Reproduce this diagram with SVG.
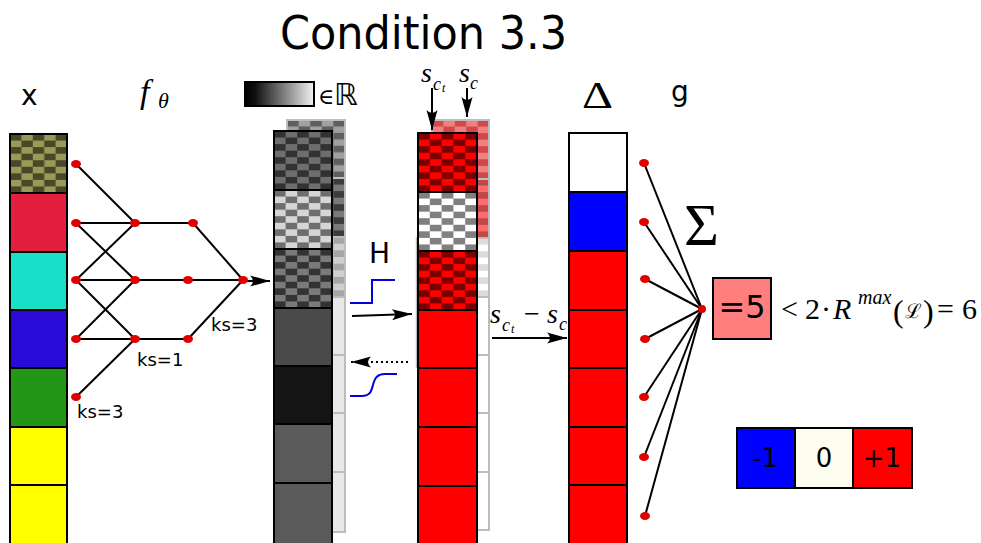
<svg xmlns="http://www.w3.org/2000/svg" width="981" height="543" viewBox="0 0 981 543">
<style>
.cell{stroke:#000;stroke-width:2}
.bcell{stroke:#bdbdbd;stroke-width:2}
.edge{stroke:#000;stroke-width:2;fill:none}
.dot{fill:#e00000}
.sans{font-family:'DejaVu Sans','Liberation Sans',sans-serif;fill:#000}
.ser{font-family:'Liberation Serif','DejaVu Serif',serif;fill:#000}
.dser{font-family:'DejaVu Serif',serif}
.it{font-style:italic}
.up{font-style:normal}
</style>
<defs>
<marker id="ah" markerUnits="userSpaceOnUse" markerWidth="24" markerHeight="14" viewBox="-21 -7 22 14" refX="0" refY="0" orient="auto">
<path d="M0,0 L-20,-5.5 Q-14,0 -20,5.5 Z" fill="#000"/>
</marker>
<linearGradient id="gbar" x1="0" y1="0" x2="1" y2="0">
<stop offset="0" stop-color="#000"/><stop offset="0.15" stop-color="#111"/><stop offset="1" stop-color="#f2f2f2"/>
</linearGradient>
<pattern id="pOlive" patternUnits="objectBoundingBox" patternContentUnits="objectBoundingBox" width="0.4" height="0.2222">
<rect width="0.4" height="0.2222" fill="#9a9a58"/><rect width="0.2" height="0.1111" fill="#484828"/><rect x="0.2" y="0.1111" width="0.2" height="0.1111" fill="#484828"/>
</pattern>
<pattern id="pG1" patternUnits="objectBoundingBox" patternContentUnits="objectBoundingBox" width="0.4" height="0.2222">
<rect width="0.4" height="0.2222" fill="#6e6e6e"/><rect width="0.2" height="0.1111" fill="#323232"/><rect x="0.2" y="0.1111" width="0.2" height="0.1111" fill="#323232"/>
</pattern>
<pattern id="pG2" patternUnits="objectBoundingBox" patternContentUnits="objectBoundingBox" width="0.4" height="0.2222">
<rect width="0.4" height="0.2222" fill="#d6d6d6"/><rect width="0.2" height="0.1111" fill="#6e6e6e"/><rect x="0.2" y="0.1111" width="0.2" height="0.1111" fill="#6e6e6e"/>
</pattern>
<pattern id="pG3" patternUnits="objectBoundingBox" patternContentUnits="objectBoundingBox" width="0.4" height="0.2222">
<rect width="0.4" height="0.2222" fill="#7a7a7a"/><rect width="0.2" height="0.1111" fill="#333"/><rect x="0.2" y="0.1111" width="0.2" height="0.1111" fill="#333"/>
</pattern>
<pattern id="pBG1" patternUnits="objectBoundingBox" patternContentUnits="objectBoundingBox" width="0.4" height="0.2222">
<rect width="0.4" height="0.2222" fill="#a0a0a0"/><rect width="0.2" height="0.1111" fill="#5e5e5e"/><rect x="0.2" y="0.1111" width="0.2" height="0.1111" fill="#5e5e5e"/>
</pattern>
<pattern id="pBG2" patternUnits="objectBoundingBox" patternContentUnits="objectBoundingBox" width="0.4" height="0.2222">
<rect width="0.4" height="0.2222" fill="#7a7a7a"/><rect width="0.2" height="0.1111" fill="#3c3c3c"/><rect x="0.2" y="0.1111" width="0.2" height="0.1111" fill="#3c3c3c"/>
</pattern>
<pattern id="pBG3" patternUnits="objectBoundingBox" patternContentUnits="objectBoundingBox" width="0.4" height="0.2222">
<rect width="0.4" height="0.2222" fill="#cfcfcf"/><rect width="0.2" height="0.1111" fill="#a6a6a6"/><rect x="0.2" y="0.1111" width="0.2" height="0.1111" fill="#a6a6a6"/>
</pattern>
<pattern id="pR1" patternUnits="objectBoundingBox" patternContentUnits="objectBoundingBox" width="0.4" height="0.2222">
<rect width="0.4" height="0.2222" fill="#ff0000"/><rect width="0.2" height="0.1111" fill="#7a0000"/><rect x="0.2" y="0.1111" width="0.2" height="0.1111" fill="#7a0000"/>
</pattern>
<pattern id="pRW" patternUnits="objectBoundingBox" patternContentUnits="objectBoundingBox" width="0.4" height="0.2222">
<rect width="0.4" height="0.2222" fill="#ffffff"/><rect width="0.2" height="0.1111" fill="#808080"/><rect x="0.2" y="0.1111" width="0.2" height="0.1111" fill="#808080"/>
</pattern>
<pattern id="pBR1" patternUnits="objectBoundingBox" patternContentUnits="objectBoundingBox" width="0.4" height="0.2222">
<rect width="0.4" height="0.2222" fill="#f08080"/><rect width="0.2" height="0.1111" fill="#d04848"/><rect x="0.2" y="0.1111" width="0.2" height="0.1111" fill="#d04848"/>
</pattern>
<pattern id="pBR2" patternUnits="objectBoundingBox" patternContentUnits="objectBoundingBox" width="0.4" height="0.2222">
<rect width="0.4" height="0.2222" fill="#ff6a6a"/><rect width="0.2" height="0.1111" fill="#c04848"/><rect x="0.2" y="0.1111" width="0.2" height="0.1111" fill="#c04848"/>
</pattern>
<pattern id="pBR3" patternUnits="objectBoundingBox" patternContentUnits="objectBoundingBox" width="0.4" height="0.2222">
<rect width="0.4" height="0.2222" fill="#ffffff"/><rect width="0.2" height="0.1111" fill="#dcdcdc"/><rect x="0.2" y="0.1111" width="0.2" height="0.1111" fill="#dcdcdc"/>
</pattern>
</defs>
<rect width="981" height="543" fill="#fff"/>

<g id="title"><text class="sans" x="280" y="49" font-size="47" textLength="287" lengthAdjust="spacingAndGlyphs">Condition 3.3</text></g>

<g id="labels">
<text class="sans" x="21" y="105" font-size="28">x</text>
<text class="ser it" x="140" y="103" font-size="34">f<tspan x="158" y="108" font-size="22">θ</tspan></text>
<text class="ser" x="318" y="104" font-size="22"><tspan class="dser">∈</tspan><tspan class="sans" x="334" y="105" font-size="30">ℝ</tspan></text>
<text class="ser" x="582" y="108" font-size="38" textLength="31" lengthAdjust="spacingAndGlyphs">Δ</text>
<text class="sans" x="671" y="101" font-size="28">g</text>
<text class="sans" x="369" y="263" font-size="28">H</text>
<text class="sans" x="77" y="418" font-size="18">ks=3</text>
<text class="sans" x="137" y="366" font-size="18">ks=1</text>
<text class="sans" x="211" y="331" font-size="18">ks=3</text>
<text class="ser it" x="421" y="82" font-size="28">s<tspan x="433" y="90" font-size="18">c</tspan><tspan x="442" y="92" font-size="12">t</tspan></text>
<text class="ser it" x="459" y="82" font-size="28">s<tspan x="470" y="89" font-size="18">c</tspan></text>
<text class="ser it" x="490" y="323" font-size="28">s<tspan x="502" y="331" font-size="18">c</tspan><tspan x="511" y="333" font-size="12">t</tspan><tspan class="up" x="524" y="323" font-size="28">−</tspan><tspan x="547" y="323" font-size="28">s</tspan><tspan x="559" y="330" font-size="18">c</tspan></text>
<text class="ser" x="684" y="245" font-size="60">Σ</text>
<text class="ser" x="781" y="319" font-size="30">&lt;<tspan x="805">2</tspan><tspan x="821">·</tspan><tspan class="it" x="833" font-size="30">R</tspan><tspan class="it" x="858" y="304" font-size="20">max</tspan><tspan x="893" y="322" font-size="32">(</tspan><tspan class="dser" x="905" y="318" font-size="20">ℒ</tspan><tspan x="923" y="322" font-size="32">)</tspan><tspan x="937" y="319">=</tspan><tspan x="962" y="319">6</tspan></text>
</g>

<g id="gradient-bar"><rect x="245" y="82" width="69" height="24" fill="url(#gbar)" stroke="#000" stroke-width="2"/></g>

<g id="col-x">
<rect class="cell" x="10" y="134" width="57" height="59" fill="url(#pOlive)"/>
<rect class="cell" x="10" y="193" width="57" height="59" fill="#e31e3e"/>
<rect class="cell" x="10" y="252" width="57" height="58" fill="#18e0c8"/>
<rect class="cell" x="10" y="310" width="57" height="58" fill="#2a0ad6"/>
<rect class="cell" x="10" y="368" width="57" height="59" fill="#239517"/>
<rect class="cell" x="10" y="427" width="57" height="58" fill="#ffff00"/>
<rect class="cell" x="10" y="485" width="57" height="60" fill="#ffff00"/>
</g>

<g id="col-gray-back">
<rect class="bcell" x="287" y="120" width="58" height="58" fill="url(#pBG1)"/>
<rect class="bcell" x="287" y="178" width="58" height="59" fill="url(#pBG2)"/>
<rect class="bcell" x="287" y="237" width="58" height="60" fill="url(#pBG3)"/>
<rect class="bcell" x="287" y="297" width="58" height="58" fill="#e8e8e8"/>
<rect class="bcell" x="287" y="355" width="58" height="58" fill="#e8e8e8"/>
<rect class="bcell" x="287" y="413" width="58" height="59" fill="#e8e8e8"/>
<rect class="bcell" x="287" y="472" width="58" height="60" fill="#e8e8e8"/>
</g>
<g id="col-gray">
<rect class="cell" x="274" y="131" width="58" height="59" fill="url(#pG1)"/>
<rect class="cell" x="274" y="190" width="58" height="59" fill="url(#pG2)"/>
<rect class="cell" x="274" y="249" width="58" height="59" fill="url(#pG3)"/>
<rect class="cell" x="274" y="308" width="58" height="58" fill="#4a4a4a"/>
<rect class="cell" x="274" y="366" width="58" height="58" fill="#141414"/>
<rect class="cell" x="274" y="424" width="58" height="59" fill="#5a5a5a"/>
<rect class="cell" x="274" y="483" width="58" height="62" fill="#5a5a5a"/>
</g>

<g id="col-red-back">
<rect class="bcell" x="432" y="120" width="57" height="59" fill="url(#pBR1)"/>
<rect class="bcell" x="432" y="179" width="57" height="59" fill="url(#pBR2)"/>
<rect class="bcell" x="432" y="238" width="57" height="59" fill="url(#pBR3)"/>
<rect class="bcell" x="432" y="297" width="57" height="58" fill="#fff"/>
<rect class="bcell" x="432" y="355" width="57" height="58" fill="#fff"/>
<rect class="bcell" x="432" y="413" width="57" height="59" fill="#fff"/>
<rect class="bcell" x="432" y="472" width="57" height="58" fill="#fff"/>
</g>
<line x1="416.5" y1="237" x2="416.5" y2="368" stroke="#bdbdbd" stroke-width="1.5"/>
<g id="col-red">
<rect class="cell" x="418" y="133" width="59" height="59" fill="url(#pR1)"/>
<rect class="cell" x="418" y="192" width="59" height="59" fill="url(#pRW)"/>
<rect class="cell" x="418" y="251" width="59" height="59" fill="url(#pR1)"/>
<rect class="cell" x="418" y="310" width="59" height="58" fill="#ff0000"/>
<rect class="cell" x="418" y="368" width="59" height="59" fill="#ff0000"/>
<rect class="cell" x="418" y="427" width="59" height="59" fill="#ff0000"/>
<rect class="cell" x="418" y="486" width="59" height="59" fill="#ff0000"/>
</g>

<g id="col-delta">
<rect class="cell" x="569" y="133" width="58" height="59" fill="#fff"/>
<rect class="cell" x="569" y="192" width="58" height="59" fill="#0000ff"/>
<rect class="cell" x="569" y="251" width="58" height="59" fill="#ff0000"/>
<rect class="cell" x="569" y="310" width="58" height="58" fill="#ff0000"/>
<rect class="cell" x="569" y="368" width="58" height="59" fill="#ff0000"/>
<rect class="cell" x="569" y="427" width="58" height="58" fill="#ff0000"/>
<rect class="cell" x="569" y="485" width="58" height="60" fill="#ff0000"/>
</g>

<g id="sigmoids">
<path d="M350,303 H372 V280 H395" fill="none" stroke="#0000e0" stroke-width="2"/>
<path d="M350,396 H362 C370,396 371,392 373,385 C375,377 378,374 385,374 H397" fill="none" stroke="#0000e0" stroke-width="2"/>
</g>

<g id="connectors">
<line class="edge" x1="76" y1="164" x2="135" y2="223"/>
<line class="edge" x1="76" y1="223" x2="135" y2="223"/>
<line class="edge" x1="76" y1="280" x2="135" y2="223"/>
<line class="edge" x1="76" y1="223" x2="135" y2="280"/>
<line class="edge" x1="76" y1="280" x2="135" y2="280"/>
<line class="edge" x1="76" y1="339" x2="135" y2="280"/>
<line class="edge" x1="76" y1="280" x2="135" y2="339"/>
<line class="edge" x1="76" y1="339" x2="135" y2="339"/>
<line class="edge" x1="76" y1="397" x2="135" y2="339"/>
<line class="edge" x1="135" y1="223" x2="193" y2="223"/>
<line class="edge" x1="135" y1="280" x2="188" y2="280"/>
<line class="edge" x1="135" y1="339" x2="188" y2="339"/>
<line class="edge" x1="193" y1="223" x2="243" y2="280"/>
<line class="edge" x1="188" y1="280" x2="243" y2="280"/>
<line class="edge" x1="188" y1="339" x2="243" y2="280"/>
<line class="edge" x1="644" y1="163" x2="702" y2="309"/>
<line class="edge" x1="644" y1="222" x2="702" y2="309"/>
<line class="edge" x1="645" y1="279" x2="702" y2="309"/>
<line class="edge" x1="645" y1="339" x2="702" y2="309"/>
<line class="edge" x1="644" y1="397" x2="702" y2="309"/>
<line class="edge" x1="644" y1="457" x2="702" y2="309"/>
<line class="edge" x1="645" y1="516" x2="702" y2="309"/>
<line class="edge" x1="243" y1="281" x2="270" y2="281" marker-end="url(#ah)"/>
<line class="edge" x1="352" y1="316" x2="412" y2="314" marker-end="url(#ah)"/>
<line class="edge" x1="408" y1="362" x2="351" y2="362" stroke-dasharray="2,3" marker-end="url(#ah)"/>
<line class="edge" x1="432" y1="88" x2="432" y2="130" marker-end="url(#ah)"/>
<line class="edge" x1="467" y1="88" x2="467" y2="117" marker-end="url(#ah)"/>
<line class="edge" x1="492" y1="338" x2="567" y2="338" marker-end="url(#ah)"/>
</g>

<g id="net-nodes">
<ellipse class="dot" cx="76" cy="164" rx="5" ry="4"/>
<ellipse class="dot" cx="76" cy="223" rx="5" ry="4"/>
<ellipse class="dot" cx="76" cy="280" rx="5" ry="4"/>
<ellipse class="dot" cx="76" cy="339" rx="5" ry="4"/>
<ellipse class="dot" cx="76" cy="397" rx="5" ry="4"/>
<ellipse class="dot" cx="135" cy="223" rx="5" ry="4"/>
<ellipse class="dot" cx="135" cy="280" rx="5" ry="4"/>
<ellipse class="dot" cx="135" cy="339" rx="5" ry="4"/>
<ellipse class="dot" cx="193" cy="223" rx="5" ry="4"/>
<ellipse class="dot" cx="188" cy="280" rx="5" ry="4"/>
<ellipse class="dot" cx="188" cy="339" rx="5" ry="4"/>
<ellipse class="dot" cx="243" cy="280" rx="5" ry="4"/>
</g>
<g id="g-nodes">
<ellipse class="dot" cx="644" cy="163" rx="5" ry="4"/>
<ellipse class="dot" cx="644" cy="222" rx="5" ry="4"/>
<ellipse class="dot" cx="645" cy="279" rx="5" ry="4"/>
<ellipse class="dot" cx="645" cy="339" rx="5" ry="4"/>
<ellipse class="dot" cx="644" cy="397" rx="5" ry="4"/>
<ellipse class="dot" cx="644" cy="457" rx="5" ry="4"/>
<ellipse class="dot" cx="645" cy="516" rx="5" ry="4"/>
<ellipse class="dot" cx="702" cy="309" rx="4" ry="4"/>
</g>

<g id="sum-box">
<rect x="713" y="278" width="58" height="61" fill="#ff7f7f" stroke="#000" stroke-width="2"/>
<text class="sans" x="742" y="318" font-size="32" text-anchor="middle">=5</text>
</g>

<g id="legend">
<rect x="737" y="428" width="58" height="60" fill="#0000ff" stroke="#000" stroke-width="2"/>
<rect x="795" y="428" width="58" height="60" fill="#fdfdf0" stroke="#000" stroke-width="2"/>
<rect x="853" y="428" width="59" height="60" fill="#ff0000" stroke="#000" stroke-width="2"/>
<text class="sans" x="765" y="467" font-size="26" text-anchor="middle">-1</text>
<text class="sans" x="824" y="467" font-size="26" text-anchor="middle">0</text>
<text class="sans" x="882" y="467" font-size="26" text-anchor="middle">+1</text>
</g>
</svg>
